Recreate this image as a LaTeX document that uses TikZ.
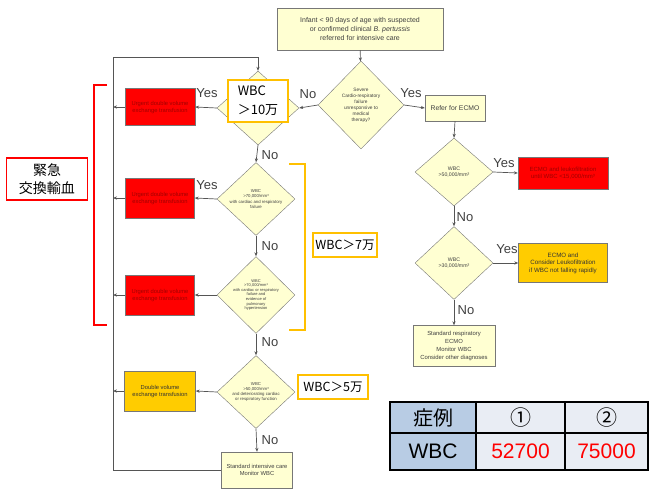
\documentclass[tikz,border=0pt]{standalone}
\usepackage{fontspec}
\setmainfont{Liberation Sans}
\newfontfamily\jp{Noto Sans CJK JP}
\usetikzlibrary{shapes.geometric,arrows.meta}
\definecolor{cream}{HTML}{FFFFD2}
\definecolor{redbox}{HTML}{FF0000}
\definecolor{redtxt}{HTML}{A00000}
\definecolor{gold}{HTML}{FFCC00}
\definecolor{orng}{HTML}{FFC000}
\definecolor{lnc}{HTML}{555555}
\definecolor{hdr}{HTML}{B8CCE4}
\definecolor{cell}{HTML}{E9EDF4}
\tikzset{
  diam/.style={diamond, draw=lnc!80, fill=cream, inner sep=0pt, align=center, font=\fontsize{4.3}{5.2}\selectfont, text=black!75},
  fbox/.style={rectangle, draw=lnc!80, fill=cream, inner sep=0pt, align=center, font=\fontsize{5.8}{7}\selectfont, text=black!75},
  rbox/.style={fbox, fill=redbox, text=redtxt},
  ybox/.style={fbox, fill=gold, text=black!80},
  conn/.style={draw=lnc, line width=0.7pt},
  arr/.style={conn, -{Stealth[length=4pt,width=3.2pt]}},
  yn/.style={font=\fontsize{13}{13}\selectfont, text=black!75, inner sep=0pt},
  lab/.style={rectangle, draw=orng, line width=1.4pt, fill=white, font=\jp\fontsize{12.5}{16}\selectfont, align=left, inner sep=3pt},
  tcell/.style={rectangle, draw=black, line width=1.6pt, fill=cell, inner sep=0pt, font=\fontsize{21}{21}\selectfont}
}
\begin{document}
\begin{tikzpicture}[x=1pt,y=-1pt]
\useasboundingbox (0,0) rectangle (651,488);

% top box
\node[fbox, minimum width=166pt, minimum height=42pt, font=\fontsize{7}{9}\selectfont] (top) at (360,29)
  {Infant < 90 days of age with suspected\\or confirmed clinical \textit{B. pertussis}\\referred for intensive care};

% main diamonds
\node[diam, minimum width=86pt, minimum height=88pt, font=\fontsize{4.8}{6}\selectfont] (d1) at (361,105)
  {Severe\\Cardio-respiratory\\failure\\unresponsive to\\medical\\therapy?};
\node[diam, minimum width=82pt, minimum height=74pt] (d2) at (258,108) {};
\node[diam, minimum width=78pt, minimum height=73pt] (d3) at (256,199)
  {WBC\\>70,000/mm³\\with cardiac and respiratory\\failure};
\node[diam, minimum width=78pt, minimum height=70pt, font=\fontsize{4}{4.6}\selectfont] (d4) at (256,295)
  {WBC\\>70,000/mm³\\with cardiac or respiratory\\failure and\\evidence of\\pulmonary\\hypertension};
\node[diam, minimum width=78pt, minimum height=73pt] (d5) at (256,392)
  {WBC\\>50,000/mm³\\and deteriorating cardiac\\or respiratory function};
\node[diam, minimum width=78pt, minimum height=68pt, font=\fontsize{5.2}{6.5}\selectfont] (d6) at (454,172)
  {WBC\\>50,000/mm³};
\node[diam, minimum width=78pt, minimum height=73pt, font=\fontsize{5.2}{6.5}\selectfont] (d7) at (454,263)
  {WBC\\>30,000/mm³};

% boxes
\node[rbox, minimum width=70pt, minimum height=37pt] (r1) at (160,107)
  {Urgent double volume\\exchange transfusion};
\node[rbox, minimum width=69pt, minimum height=40pt] (r2) at (160,198)
  {Urgent double volume\\exchange transfusion};
\node[rbox, minimum width=69pt, minimum height=40pt] (r3) at (160,295)
  {Urgent double volume\\exchange transfusion};
\node[ybox, minimum width=71pt, minimum height=40pt] (y1) at (160,391)
  {Double volume\\exchange transfusion};
\node[fbox, minimum width=71pt, minimum height=36pt] (sic) at (257,470)
  {Standard intensive care\\Monitor WBC};
\node[fbox, minimum width=60pt, minimum height=26pt, font=\fontsize{6.8}{8}\selectfont] (refer) at (455,108)
  {Refer for ECMO};
\node[rbox, minimum width=90pt, minimum height=32pt, font=\fontsize{6}{7.5}\selectfont] (r4) at (563,173)
  {ECMO and leukofiltration\\until WBC <15,000/mm³};
\node[ybox, minimum width=89pt, minimum height=39pt, font=\fontsize{6.2}{7.6}\selectfont] (y2) at (563,263)
  {ECMO and\\Consider Leukofiltration\\if WBC not falling rapidly};
\node[fbox, minimum width=82pt, minimum height=41pt, font=\fontsize{5.9}{7.8}\selectfont] (s2) at (454,346)
  {Standard respiratory\\ECMO\\Monitor WBC\\Consider other diagnoses};

% left loop line
\coordinate (lt) at (113,57);
\coordinate (lb) at (113,470);

% connectors
\draw[arr] (top) -- (d1);
\draw[arr] (d1.west) -- (d2.east);
\draw[arr] (d1.east) -- (refer.west);
\draw[arr] (refer.south) -- (d6.north);
\draw[arr] (d6.east) -- (r4.west);
\draw[arr] (d6.south) -- (d7.north);
\draw[arr] (d7.east) -- (y2.west);
\draw[arr] (d7.south) -- (s2.north);

\draw[arr] (sic.west) -- (lb) -- (lt) -| (d2.north);
\draw[arr] (d2.west) -- (r1.east);
\draw[arr] (d2.south) -- (d3.north);
\draw[arr] (d3.west) -- (r2.east);
\draw[arr] (d3.south) -- (d4.north);
\draw[arr] (d4.west) -- (r3.east);
\draw[arr] (d4.south) -- (d5.north);
\draw[arr] (d5.west) -- (y1.east);
\draw[arr] (d5.south) -- (sic.north);
\draw[arr] (r1.west) -- (r1.west -| lt);
\draw[arr] (r2.west) -- (r2.west -| lt);
\draw[arr] (r3.west) -- (r3.west -| lt);
\draw[arr] (y1.west) -- (y1.west -| lt);

% Yes / No labels
\node[yn] (n1) at (308,94) {No};
\node[yn] (ys1) at (411,93) {Yes};
\node[yn] (ys2) at (207,93) {Yes};
\node[yn] (n2) at (270,155) {No};
\node[yn] (ys3) at (207,185) {Yes};
\node[yn] (n3) at (270,246) {No};
\node[yn] (n4) at (270,342) {No};
\node[yn] (n5) at (270,440) {No};
\node[yn] (ys4) at (504,163) {Yes};
\node[yn] (n6) at (465,217) {No};
\node[yn] (ys5) at (507,249) {Yes};
\node[yn] (n7) at (466,310) {No};

% brackets
\draw[red, line width=1.6pt] (107,85) -- (94,85) -- (94,325) -- (107,325);
\draw[orng, line width=1.6pt] (289,164) -- (305,164) -- (305,330) -- (289,330);

% labels
\node[rectangle, draw=red, line width=1.2pt, fill=white, minimum width=81pt, minimum height=42pt, inner sep=0pt, font=\jp\fontsize{14}{18}\selectfont, align=center] (kyu) at (47,179) {緊急\\交換輸血};
\node[lab, minimum width=60pt, minimum height=42pt, font=\jp\fontsize{13}{19}\selectfont] (l10) at (258,101) {WBC\\＞10万};
\node[lab, minimum width=64pt, minimum height=24pt, inner sep=2pt] (l7) at (345,245) {WBC＞7万};
\node[lab, minimum width=70pt, minimum height=24pt, inner sep=2pt] (l5) at (333,387) {WBC＞5万};

% table
\node[tcell, fill=hdr, minimum width=86pt, minimum height=31pt, font=\jp\fontsize{20}{20}\selectfont] (t11) at (433,417.5) {症例};
\node[tcell, minimum width=89pt, minimum height=31pt, font=\jp\fontsize{21}{21}\selectfont] (t12) at (520.5,417.5) {①};
\node[tcell, minimum width=83pt, minimum height=31pt, font=\jp\fontsize{21}{21}\selectfont] (t13) at (606.5,417.5) {②};
\node[tcell, fill=hdr, minimum width=86pt, minimum height=37pt] (t21) at (433,451.5) {WBC};
\node[tcell, minimum width=89pt, minimum height=37pt, text=red] (t22) at (520.5,451.5) {52700};
\node[tcell, minimum width=83pt, minimum height=37pt, text=red] (t23) at (606.5,451.5) {75000};
\end{tikzpicture}
\end{document}
